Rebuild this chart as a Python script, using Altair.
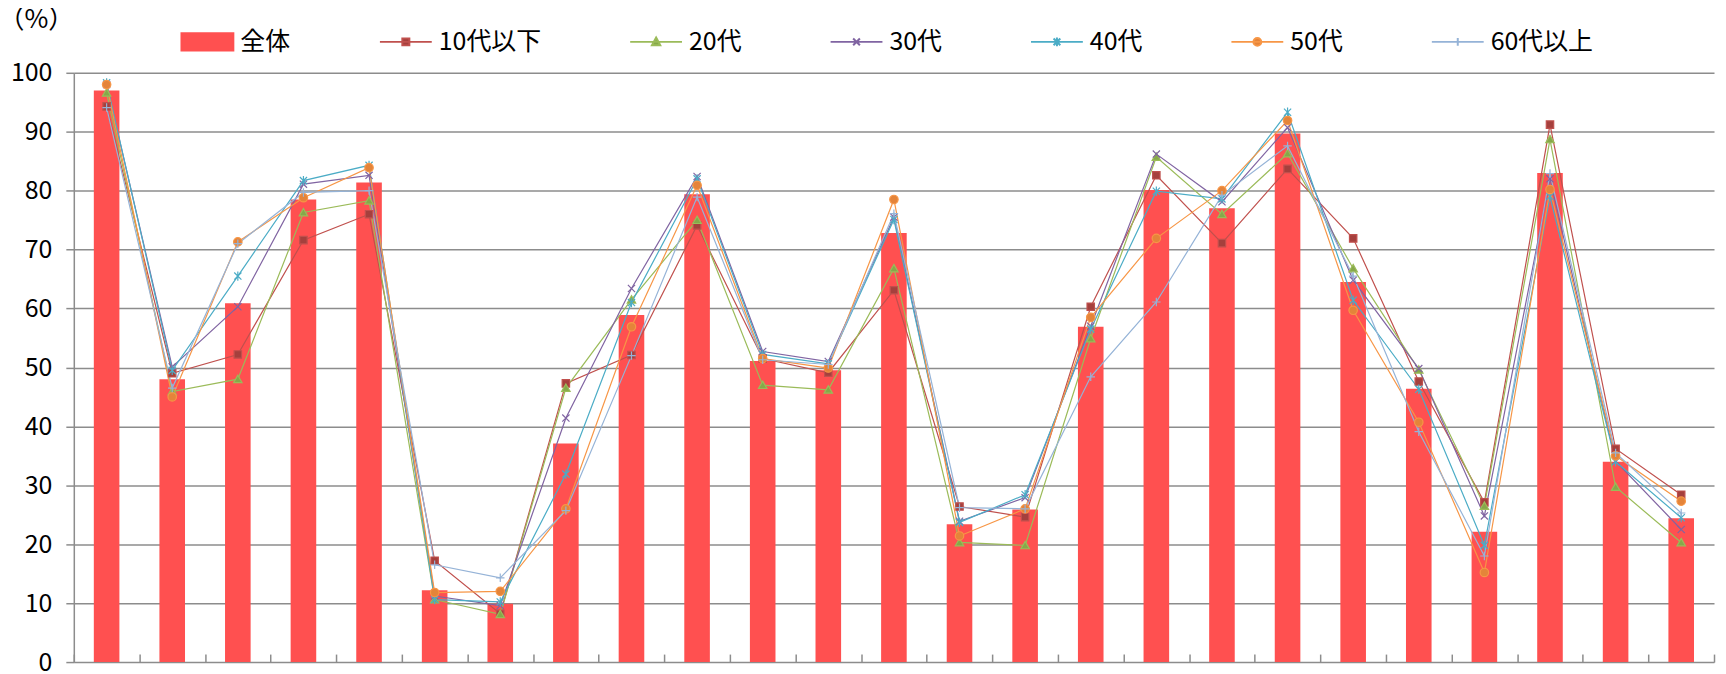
import altair as alt
import pandas as pd

# ---- data ----
categories = [str(i) for i in range(1, 26)]
series_names = ["全体", "10代以下", "20代", "30代", "40代", "50代", "60代以上"]

total = [97.0, 48.0, 60.9, 78.5, 81.4, 12.2, 9.9, 37.1, 58.9, 79.4, 51.1, 49.5, 72.8,
         23.4, 25.9, 56.9, 80.1, 77.0, 89.7, 64.5, 46.4, 22.1, 83.0, 34.0, 24.4]
age10 = [94.3, 49.0, 52.2, 71.6, 76.0, 17.2, 8.2, 47.3, 52.1, 74.1, 51.5, 49.1, 63.1,
         26.4, 24.6, 60.3, 82.6, 71.1, 83.7, 71.9, 47.6, 27.1, 91.2, 36.2, 28.4]
age20 = [96.6, 45.9, 48.0, 76.3, 78.3, 10.6, 8.1, 46.5, 61.5, 75.0, 47.0, 46.2, 66.8,
         20.3, 19.8, 54.9, 85.7, 76.0, 86.3, 66.8, 49.6, 26.5, 88.7, 29.7, 20.3]
age30 = [98.0, 50.1, 60.3, 81.1, 82.6, 11.2, 9.6, 41.4, 63.4, 82.4, 52.7, 51.0, 75.5,
         23.9, 27.9, 57.0, 86.2, 78.1, 90.7, 64.8, 49.8, 24.8, 82.0, 34.1, 22.5]
age40 = [98.3, 49.5, 65.5, 81.7, 84.3, 10.6, 10.2, 31.9, 61.0, 82.0, 52.2, 50.6, 75.1,
         23.7, 28.4, 56.5, 79.9, 78.6, 93.3, 61.4, 46.3, 19.8, 79.0, 34.0, 24.5]
age50 = [98.0, 45.0, 71.3, 78.8, 83.9, 11.8, 12.0, 26.0, 56.9, 80.9, 51.5, 49.9, 78.5,
         21.4, 26.0, 58.5, 71.9, 80.0, 91.9, 59.7, 40.7, 15.2, 80.2, 35.0, 27.3]
age60 = [94.1, 46.5, 71.0, 79.7, 80.0, 16.5, 14.3, 25.7, 52.0, 78.9, 51.3, 50.5, 76.1,
         26.2, 26.0, 48.4, 61.1, 79.2, 87.6, 65.5, 39.1, 18.0, 82.9, 35.5, 25.3]

all_values = [total, age10, age20, age30, age40, age50, age60]

# ---- styles ----
line_colors = ["#FF5050", "#C0504D", "#9BBB59", "#8064A2", "#4BACC6", "#F79646", "#95B3D7"]
marker_colors = ["#FF5050", "#A5403D", "#86A84A", "#7459A0", "#3FA3C0", "#E4843A", "#8AA9D4"]
marker_paths = [
    "M-0.875,-0.875H0.875V0.875H-0.875Z",
    "M0,-0.95L1,0.8H-1Z",
    "M-0.85,-0.85L0.85,0.85M-0.85,0.85L0.85,-0.85",
    "M-0.85,-0.85L0.85,0.85M-0.85,0.85L0.85,-0.85M0,-1.1V1.1",
    "M1,0A1,1,0,1,1,-1,0A1,1,0,1,1,1,0Z",
    "M-1,0H1M0,-1V1",
]
legend_paths = [
    "M-1,-0.33H1V0.33H-1Z",
    "M-1,0H1M-0.135,-0.135H0.135V0.135H-0.135Z",
    "M-1,0H1M0,-0.165L0.16,0.13H-0.16Z",
    "M-1,0H1M-0.13,-0.13L0.13,0.13M-0.13,0.13L0.13,-0.13",
    "M-1,0H1M-0.13,-0.13L0.13,0.13M-0.13,0.13L0.13,-0.13M0,-0.17V0.17",
    "M-1,0H1M0.15,0A0.15,0.15,0,1,1,-0.15,0A0.15,0.15,0,1,1,0.15,0Z",
    "M-1,0H1M0,-0.15V0.15",
]

FONT = "Noto Sans CJK JP"
GRID = "#8C8C8C"

rows = []
for name, vals in zip(series_names, all_values):
    for c, v in zip(categories, vals):
        rows.append({"cat": c, "series": name, "value": v})
df = pd.DataFrame(rows)
df_total = df[df["series"] == "全体"]
df_ages = df[df["series"] != "全体"]

x_enc = alt.X(
    "cat:N", sort=categories, title=None,
    scale=alt.Scale(paddingInner=0, paddingOuter=0),
    axis=alt.Axis(labels=False, domain=False, ticks=True, tickSize=8, tickColor=GRID,
                  tickWidth=1.5, offset=-8, tickBand="extent", grid=False),
)
y_enc = alt.Y(
    "value:Q",
    scale=alt.Scale(domain=[0, 100], nice=False),
    axis=alt.Axis(values=list(range(0, 101, 10)), grid=True, gridColor=GRID, gridWidth=1.5,
                  domainColor=GRID, domainWidth=1.5, tickColor=GRID, tickWidth=1.5, tickSize=8,
                  labelFont=FONT, labelFontSize=25, labelColor="black", labelPadding=14,
                  title="（%）", titleAngle=0, titleX=-38, titleY=-53, titleAlign="center",
                  titleBaseline="middle", titleFont=FONT, titleFontSize=26,
                  titleFontWeight="normal", titleColor="black"),
)

stroke_scale = alt.Scale(domain=series_names, range=line_colors)
fill_scale = alt.Scale(domain=series_names, range=marker_colors)

bars = alt.Chart(df_total).mark_bar(color="#FF5050", width={"band": 0.39}).encode(
    x=x_enc, y=y_enc
)

lines = alt.Chart(df_ages).mark_line(strokeWidth=1.2).encode(
    x=x_enc, y=y_enc,
    stroke=alt.Stroke("series:N", scale=stroke_scale, title=None),
)

marker_layers = []
for name, path in zip(series_names[1:], marker_paths):
    marker_layers.append(
        alt.Chart(df_ages).transform_filter(alt.datum.series == name)
        .mark_point(shape=path, strokeWidth=1.2, opacity=1, size=72)
        .encode(
            x=x_enc, y=y_enc,
            stroke=alt.Stroke("series:N", scale=stroke_scale, title=None),
            fill=alt.Fill("series:N", scale=fill_scale, title=None),
        )
    )

legend_layer = alt.Chart(df).mark_point(opacity=0, size=64).encode(
    x=x_enc, y=y_enc,
    shape=alt.Shape("series:N", scale=alt.Scale(domain=series_names, range=legend_paths), title=None),
    stroke=alt.Stroke("series:N", scale=stroke_scale, title=None),
    fill=alt.Fill("series:N", scale=fill_scale, title=None),
)

chart = alt.layer(bars, lines, *marker_layers, legend_layer).properties(
    width=1645, height=591,
    autosize=alt.AutoSizeParams(type="none"),
    padding={"left": 66, "top": 64, "right": 4, "bottom": 12},
).configure_view(stroke="transparent").configure_legend(
    orient="none", legendX=107, legendY=-58, direction="horizontal",
    labelFont=FONT, labelFontSize=25, labelColor="black", labelOffset=6,
    columnPadding=85, symbolSize=2704, symbolOpacity=1, symbolStrokeWidth=2,
    padding=0,
)

chart.save("out.html", embed_options={"renderer": "svg", "actions": False})
